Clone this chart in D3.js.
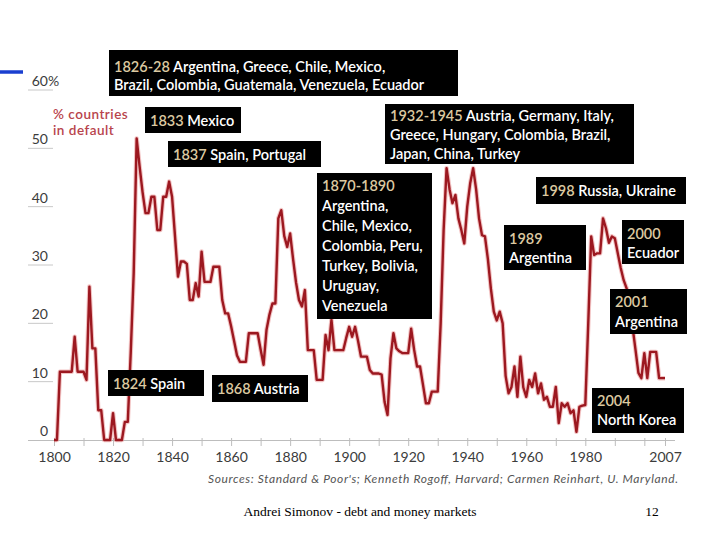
<!DOCTYPE html>
<html>
<head>
<meta charset="utf-8">
<script src="https://cdn.jsdelivr.net/npm/d3@7"></script>
<style>
  body { margin: 0; background: #fff; }
  svg { display: block; }
</style>
</head>
<body>
<div id="chart"></div>
<script>

// share of countries in default, one value per year from firstYear
var firstYear = 1800;
var pctInDefault = [
    0, 0, 11.7, 11.7, 11.7, 11.7, 11.7, 17.7, 11.7, 11.7,        // 1800s
    11.7, 10.3, 26.3, 15.7, 15.7, 5.1, 5.1, 0, 0, 0,            // 1810s
    4.6, 0, 0, 0, 3.1, 3.1, 15, 28.6, 51.7, 46.9,               // 1820s
    42.5, 38.9, 38.9, 41.7, 41.7, 36, 36, 41.7, 41.7, 44.3,     // 1830s
    41.7, 34.9, 28, 30.6, 30.6, 30.2, 24, 24, 26.9, 24.6,       // 1840s
    32.3, 27.1, 27.1, 27.1, 29.7, 29.7, 29.7, 24, 21.7, 21.7,   // 1850s
    19.5, 17, 14.5, 13.4, 13.4, 13.4, 18.3, 18.3, 18.3, 18.3,   // 1860s
    15.5, 12.9, 18.9, 21.5, 23.4, 23.4, 38, 39.4, 35, 33.1,     // 1870s
    35.4, 31, 27, 24, 22.9, 25.7, 15.4, 15.4, 15.4, 10.3,       // 1880s
    10.3, 10.3, 18, 15.4, 20.6, 15.4, 15.4, 15.4, 15.4, 17.5,   // 1890s
    19.4, 17.7, 19.4, 17, 14.3, 14.3, 14.3, 12, 11.4, 11.4,     // 1900s
    11.4, 11.2, 6.5, 4.3, 14, 18.3, 15.7, 15.2, 14.9, 14.9,     // 1910s
    14.9, 19.1, 15.5, 12.6, 12.6, 9.5, 6.3, 6.3, 8.3, 8.3,      // 1920s
    8.3, 20, 36, 46.6, 43, 40.6, 42, 38, 36, 33.7,              // 1930s
    40, 44, 46.6, 43, 38, 35.1, 34.9, 31, 26, 22,               // 1940s
    20.5, 22, 20, 11, 8, 9.1, 12.6, 7.4, 14.3, 9,               // 1950s
    7.4, 10.3, 9.1, 11.4, 8, 9.7, 6.9, 7.4, 5.7, 5.7,           // 1960s
    9.1, 2.9, 6.3, 5.7, 6.3, 4.6, 5.1, 1.4, 5.7, 5.9,           // 1970s
    6, 20, 34.9, 31.7, 32, 32, 38, 36.3, 33.8, 34.9,            // 1980s
    34.6, 32, 29.5, 27.4, 26, 22.5, 19.4, 15.5, 11.5, 10.6,     // 1990s
    14.9, 10.6, 15.1, 15.1, 15.1, 10.6, 10.6, 10.6              // 2000-2007
];

var yTickValues = [0, 10, 20, 30, 40, 50, 60];
var xTickValues = [1800, 1810, 1820, 1830, 1840, 1850, 1860, 1870, 1880, 1890, 1900,
                   1910, 1920, 1930, 1940, 1950, 1960, 1970, 1980, 1990, 2000, 2007];
var xTickLabels = [1800, 1820, 1840, 1860, 1880, 1900, 1920, 1940, 1960, 1980, 2007];

// annotation text: year part (gold) + rest (white), one entry per line
var annotations = [
    [['1826-28', ' Argentina, Greece, Chile, Mexico,'], ['', 'Brazil, Colombia, Guatemala, Venezuela, Ecuador']],
    [['1833', ' Mexico']],
    [['1837', ' Spain, Portugal']],
    [['1932-1945', ' Austria, Germany, Italy,'], ['', 'Greece, Hungary, Colombia, Brazil,'], ['', 'Japan, China, Turkey']],
    [['1870-1890', ''], ['', 'Argentina,'], ['', 'Chile, Mexico,'], ['', 'Colombia, Peru,'],
     ['', 'Turkey, Bolivia,'], ['', 'Uruguay,'], ['', 'Venezuela']],
    [['1824', ' Spain']],
    [['1868', ' Austria']],
    [['1998', ' Russia, Ukraine']],
    [['1989', ''], ['', 'Argentina']],
    [['2000', ''], ['', 'Ecuador']],
    [['2001', ''], ['', 'Argentina']],
    [['2004', ''], ['', 'North Korea']]
];

// box placement in pixels: x, y, width, height, first baseline, line step
var annotationBoxes = [
    [109, 50, 349, 46, 72, 18],
    [145, 107, 96, 26, 126, 18],
    [168, 141, 153, 26, 160, 18],
    [385, 104, 249, 60, 121, 19],
    [317, 173, 115, 146, 191, 20],
    [108, 370, 96, 26, 389, 18],
    [212, 375, 96, 27, 394, 18],
    [536, 177, 150, 27, 196, 18],
    [504, 225, 82, 45, 244, 19],
    [622, 220, 62, 44, 239, 19],
    [610, 289, 77, 45, 307, 20],
    [592, 388, 92, 45, 406, 19]
];

var width = 720, height = 540;
var plotLeft = 54, plotRight = 665, plotTop = 90, plotBottom = 440;
var sansFont = "Lato, 'Open Sans', sans-serif";

var svg = d3.select('#chart').append('svg')
    .attr('width', width)
    .attr('height', height);

var x = d3.scaleLinear().domain([1800, 2007]).range([plotLeft, plotRight]);
var y = d3.scaleLinear().domain([0, 60]).range([plotBottom, plotTop]);

// blue slide accent
svg.append('line')
    .attr('x1', 0).attr('x2', 23)
    .attr('y1', 72).attr('y2', 72)
    .attr('stroke', '#1a3fd0')
    .attr('stroke-width', 3.5);

// y labels with short grey rule under each
var yAxis = svg.append('g').attr('class', 'y-axis');
yTickValues.forEach(function(v) {
    if (v > 0) {
        yAxis.append('line')
            .attr('x1', 28).attr('x2', 53)
            .attr('y1', y(v)).attr('y2', y(v))
            .attr('stroke', '#c8c8c8').attr('stroke-width', 1);
    }
    yAxis.append('text')
        .attr('x', 48)
        .attr('y', y(v) - 4)
        .attr('text-anchor', 'end')
        .attr('font-family', sansFont)
        .attr('font-size', 14)
        .attr('fill', '#3c3c3c')
        .text(v);
    if (v === 60) {
        yAxis.append('text')
            .attr('x', 48)
            .attr('y', y(v) - 4)
            .attr('font-family', sansFont)
            .attr('font-size', 14)
            .attr('fill', '#3c3c3c')
            .text('%');
    }
});

// x axis: grey base line, decade ticks, labels every 20 years
var xAxis = svg.append('g')
    .attr('transform', 'translate(0,' + plotBottom + ')')
    .call(d3.axisBottom(x)
        .tickValues(xTickValues)
        .tickSize(6)
        .tickFormat(function(d) { return xTickLabels.indexOf(d) >= 0 ? d : ''; }));

xAxis.select('.domain')
    .attr('d', 'M28,0.5H' + (plotRight + 10) + 'V0.5')
    .attr('stroke', '#bdbdbd');
xAxis.selectAll('.tick line').attr('stroke', '#bdbdbd').attr('y1', -2);
xAxis.selectAll('.tick text')
    .attr('y', 12)
    .attr('font-family', sansFont)
    .attr('font-size', 14)
    .attr('fill', '#3c3c3c');

// the series
var series = pctInDefault.map(function(v, i) { return {year: firstYear + i, value: v}; });

var line = d3.line()
    .x(function(d) { return x(d.year); })
    .y(function(d) { return y(d.value); });

svg.append('path')
    .datum(series)
    .attr('d', line)
    .attr('fill', 'none')
    .attr('stroke', '#e27a7a')
    .attr('stroke-opacity', 0.45)
    .attr('stroke-width', 4.5)
    .attr('stroke-linejoin', 'round');

svg.append('path')
    .datum(series)
    .attr('d', line)
    .attr('fill', 'none')
    .attr('stroke', '#9c1820')
    .attr('stroke-width', 2.4)
    .attr('stroke-linejoin', 'round');

// series label
svg.append('text')
    .attr('x', 53).attr('y', 119)
    .attr('font-family', sansFont).attr('font-size', 13.5)
    .attr('letter-spacing', 0.5)
    .attr('font-weight', 600).attr('fill', '#b8444c')
    .text('% countries');
svg.append('text')
    .attr('x', 53).attr('y', 135)
    .attr('font-family', sansFont).attr('font-size', 13.5)
    .attr('letter-spacing', 0.5)
    .attr('font-weight', 600).attr('fill', '#b8444c')
    .text('in default');

// black annotation boxes
annotations.forEach(function(lines, i) {
    var b = annotationBoxes[i];
    var g = svg.append('g').attr('class', 'note');
    g.append('rect')
        .attr('x', b[0]).attr('y', b[1])
        .attr('width', b[2]).attr('height', b[3])
        .attr('fill', '#000');
    lines.forEach(function(l, j) {
        var t = g.append('text')
            .attr('x', b[0] + 5)
            .attr('y', b[4] + j * b[5])
            .attr('font-family', sansFont)
            .attr('font-size', 14.5)
            .attr('font-weight', 600)
            .attr('fill', '#fff');
        if (l[0]) t.append('tspan').attr('fill', '#dcc9a0').text(l[0]);
        if (l[1]) t.append('tspan').text(l[1]);
    });
});

// sources
svg.append('text')
    .attr('x', 678).attr('y', 483)
    .attr('text-anchor', 'end')
    .attr('font-family', sansFont)
    .attr('font-size', 12)
    .attr('font-style', 'italic')
    .attr('fill', '#555')
    .attr('textLength', 470)
    .attr('lengthAdjust', 'spacing')
    .text("Sources: Standard & Poor's; Kenneth Rogoff, Harvard; Carmen Reinhart, U. Maryland.");

// slide footer
svg.append('text')
    .attr('x', 360).attr('y', 516)
    .attr('text-anchor', 'middle')
    .attr('font-family', "'Liberation Serif', 'Times New Roman', serif")
    .attr('font-size', 13.5)
    .attr('fill', '#000')
    .text('Andrei Simonov - debt and money markets');
svg.append('text')
    .attr('x', 652).attr('y', 516)
    .attr('text-anchor', 'middle')
    .attr('font-family', "'Liberation Serif', 'Times New Roman', serif")
    .attr('font-size', 13.5)
    .attr('fill', '#000')
    .text('12');

</script>
</body>
</html>
